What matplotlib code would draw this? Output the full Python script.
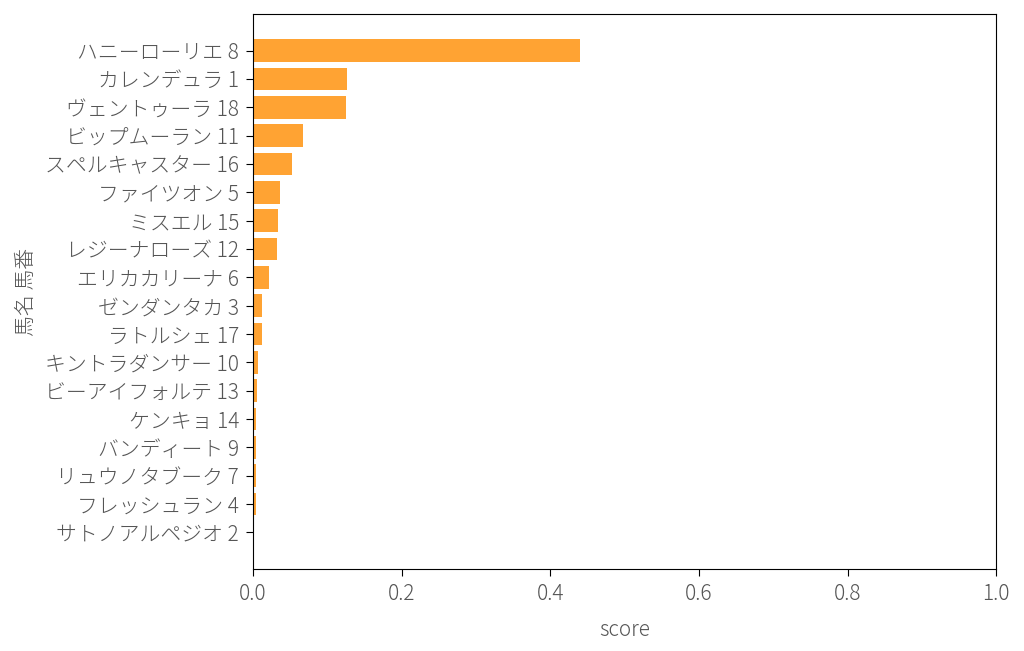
import matplotlib
matplotlib.use("Agg")
import matplotlib.pyplot as plt

plt.rcParams['font.family'] = ['Noto Sans CJK JP', 'DejaVu Sans']
plt.rcParams['font.weight'] = 'light'
plt.rcParams['axes.labelweight'] = 'light'

# horse labels, top to bottom
horses = [
    "ハニーローリエ 8", "カレンデュラ 1", "ヴェントゥーラ 18", "ビップムーラン 11",
    "スペルキャスター 16", "ファイツオン 5", "ミスエル 15", "レジーナローズ 12",
    "エリカカリーナ 6", "ゼンダンタカ 3", "ラトルシェ 17", "キントラダンサー 10",
    "ビーアイフォルテ 13", "ケンキョ 14", "バンディート 9", "リュウノタブーク 7",
    "フレッシュラン 4", "サトノアルペジオ 2",
]
scores = [
    0.440, 0.127, 0.125, 0.068, 0.053, 0.037, 0.034, 0.033,
    0.022, 0.012, 0.012, 0.0067, 0.0054, 0.0045, 0.0045, 0.0040,
    0.0036, 0.0015,
]

# barh draws bottom-up, so reverse
labels = horses[::-1]
vals = scores[::-1]

fig, ax = plt.subplots(figsize=(10.24, 6.51), dpi=100)
fig.subplots_adjust(left=0.247, right=0.973, top=0.9785, bottom=0.126)

ax.barh(range(len(vals)), vals, color='darkorange', alpha=0.8)
ax.set_yticks(range(len(labels)))
ax.set_yticklabels(labels)
ax.set_xlim(0, 1.0)
ax.set_xlabel("score", fontsize=15, color='#555555', labelpad=10)
ax.set_ylabel("馬名 馬番", fontsize=15, color='#555555', labelpad=6)
ax.tick_params(axis='both', labelsize=15, labelcolor='#555555', length=5, pad=5)

fig.savefig("out.png", dpi=100)
